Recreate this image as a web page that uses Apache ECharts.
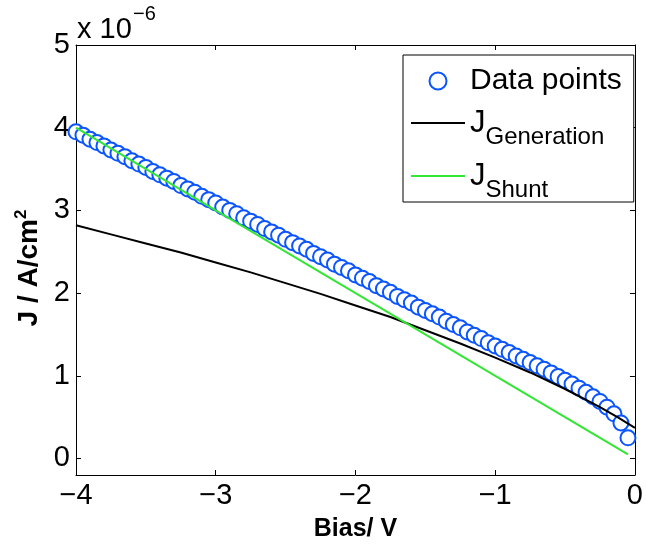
<!DOCTYPE html>
<html>
<head>
<meta charset="utf-8">
<script src="https://cdn.jsdelivr.net/npm/echarts@6/dist/echarts.min.js"></script>
<style>
html,body{margin:0;padding:0;background:#fff;}
#chart{width:646px;height:547px;}
</style>
</head>
<body>
<div id="chart"></div>
<script>
// Data (J in units of 1e-6 A/cm^2, bias in V)
const dataV = [-4.00,-3.95,-3.90,-3.85,-3.80,-3.75,-3.70,-3.65,-3.60,-3.55,-3.50,-3.45,-3.40,-3.35,-3.30,-3.25,-3.20,-3.15,-3.10,-3.05,-3.00,-2.95,-2.90,-2.85,-2.80,-2.75,-2.70,-2.65,-2.60,-2.55,-2.50,-2.45,-2.40,-2.35,-2.30,-2.25,-2.20,-2.15,-2.10,-2.05,-2.00,-1.95,-1.90,-1.85,-1.80,-1.75,-1.70,-1.65,-1.60,-1.55,-1.50,-1.45,-1.40,-1.35,-1.30,-1.25,-1.20,-1.15,-1.10,-1.05,-1.00,-0.95,-0.90,-0.85,-0.80,-0.75,-0.70,-0.65,-0.60,-0.55,-0.50,-0.45,-0.40,-0.35,-0.30,-0.25,-0.20,-0.15,-0.10,-0.05];
const dataJ = [3.95,3.91,3.86,3.82,3.78,3.73,3.69,3.65,3.60,3.56,3.52,3.47,3.43,3.39,3.35,3.30,3.26,3.22,3.17,3.13,3.09,3.04,3.00,2.96,2.91,2.87,2.83,2.78,2.74,2.70,2.65,2.61,2.57,2.53,2.48,2.44,2.40,2.35,2.31,2.27,2.22,2.18,2.14,2.09,2.05,2.01,1.96,1.92,1.88,1.83,1.79,1.75,1.71,1.66,1.62,1.58,1.53,1.49,1.45,1.40,1.36,1.32,1.28,1.24,1.20,1.16,1.12,1.08,1.035,0.99,0.945,0.90,0.85,0.80,0.745,0.69,0.62,0.54,0.43,0.25];
const genV = [-4.00,-3.75,-3.50,-3.25,-3.00,-2.75,-2.50,-2.25,-2.00,-1.75,-1.50,-1.25,-1.00,-0.75,-0.50,-0.25,-0.125,0.00];
const genJ = [2.82,2.71,2.60,2.49,2.37,2.25,2.12,1.99,1.85,1.71,1.55,1.39,1.22,1.04,0.84,0.62,0.50,0.37];
const shuntV = [-4.00,-0.05];
const shuntJ = [4.00,0.05];
const xTicks = [-4,-3,-2,-1,0];
const yTicks = [0,1,2,3,4,5];
const seriesNames = ['Data points','J_Generation','J_Shunt'];

const FONT = 'Liberation Sans, Arial, Helvetica, sans-serif';
const BLUE = '#0a55ff';
const GREEN = '#33e633';

function pairs(xs, ys){ return xs.map((x,i)=>[x, ys[i]]); }
const fmt = v => String(v).replace('-', '\u2212');

const chart = echarts.init(document.getElementById('chart'), null, {renderer:'canvas'});
const baseAxisLine = {show:true, onZero:false, lineStyle:{color:'#000', width:1}};
const option = {
  animation:false,
  backgroundColor:'#fff',
  grid:{left:76, right:6, top:45, bottom:70, containLabel:false},
  xAxis:[{
    type:'value', min:-4, max:0, position:'bottom',
    axisLine:baseAxisLine,
    axisTick:{show:true, inside:true, length:5, customValues:xTicks, lineStyle:{color:'#000'}},
    axisLabel:{show:true, customValues:xTicks, formatter:fmt, color:'#000', fontSize:29, fontFamily:FONT, margin:6},
    splitLine:{show:false},
    name:'Bias/ V', nameLocation:'middle', nameGap:42,
    nameTextStyle:{color:'#000', fontSize:25, fontWeight:'bold', fontFamily:FONT}
  },{
    type:'value', min:-4, max:0, position:'top',
    axisLine:baseAxisLine,
    axisTick:{show:true, inside:true, length:5, customValues:xTicks, lineStyle:{color:'#000'}},
    axisLabel:{show:false}, splitLine:{show:false}
  }],
  yAxis:[{
    type:'value', min:-0.2, max:5, position:'left',
    axisLine:baseAxisLine,
    axisTick:{show:true, inside:true, length:5, customValues:yTicks, lineStyle:{color:'#000'}},
    axisLabel:{show:true, customValues:yTicks, formatter:fmt, color:'#000', fontSize:29, fontFamily:FONT, margin:6},
    splitLine:{show:false},
    name:'{a|J / A/cm}{s|2}', nameLocation:'middle', nameGap:28, nameRotate:90,
    nameTextStyle:{color:'#000', fontFamily:FONT, rich:{
      a:{fontSize:28, fontWeight:'bold', color:'#000', fontFamily:FONT, lineHeight:32},
      s:{fontSize:17, fontWeight:'bold', color:'#000', fontFamily:FONT, lineHeight:17, verticalAlign:'top', padding:[0,16,0,0]}
    }}
  },{
    type:'value', min:-0.2, max:5, position:'right',
    axisLine:baseAxisLine,
    axisTick:{show:true, inside:true, length:5, customValues:yTicks, lineStyle:{color:'#000'}},
    axisLabel:{show:false}, splitLine:{show:false}
  }],
  legend:{
    orient:'vertical', left:403, top:55,
    padding:[11,12,0,7], itemGap:1, itemWidth:54, itemHeight:17,
    borderColor:'#000', borderWidth:1, backgroundColor:'#fff',
    data:[
      {name:seriesNames[0], itemStyle:{opacity:1}},
      {name:seriesNames[1], itemStyle:{opacity:0}},
      {name:seriesNames[2], itemStyle:{opacity:0}}
    ],
    formatter:function(name){
      if(name==='Data points') return '{d|Data points}';
      const parts = name.split('_');
      return '{j|' + parts[0] + '}{sub|' + parts[1] + '}';
    },
    textStyle:{color:'#000', fontFamily:FONT, fontSize:30, rich:{
      d:{fontSize:30, lineHeight:32, color:'#000', fontFamily:FONT},
      j:{fontSize:31, lineHeight:31, color:'#000', fontFamily:FONT},
      sub:{fontSize:24, lineHeight:24, padding:[28,0,0,0], color:'#000', fontFamily:FONT}
    }}
  },
  graphic:[
    {type:'text', left:77, top:15, style:{text:'x 10', fontSize:29, fontFamily:FONT, fill:'#000'}},
    {type:'text', left:133, top:4, style:{text:'\u22126', fontSize:20, fontFamily:FONT, fill:'#000'}}
  ],
  series:[{
    name:seriesNames[0], type:'scatter', xAxisIndex:0, yAxisIndex:0,
    data:pairs(dataV, dataJ),
    symbol:'emptyCircle', symbolSize:15,
    itemStyle:{color:BLUE, borderColor:BLUE, borderWidth:2.5, opacity:1}
  },{
    name:seriesNames[1], type:'line', xAxisIndex:0, yAxisIndex:0,
    data:pairs(genV, genJ), symbol:'none', showSymbol:false,
    lineStyle:{color:'#000', width:2}, itemStyle:{color:'#000'}
  },{
    name:seriesNames[2], type:'line', xAxisIndex:0, yAxisIndex:0,
    data:pairs(shuntV, shuntJ), symbol:'none', showSymbol:false,
    lineStyle:{color:GREEN, width:2}, itemStyle:{color:GREEN}
  }]
};
chart.setOption(option);
</script>
</body>
</html>
